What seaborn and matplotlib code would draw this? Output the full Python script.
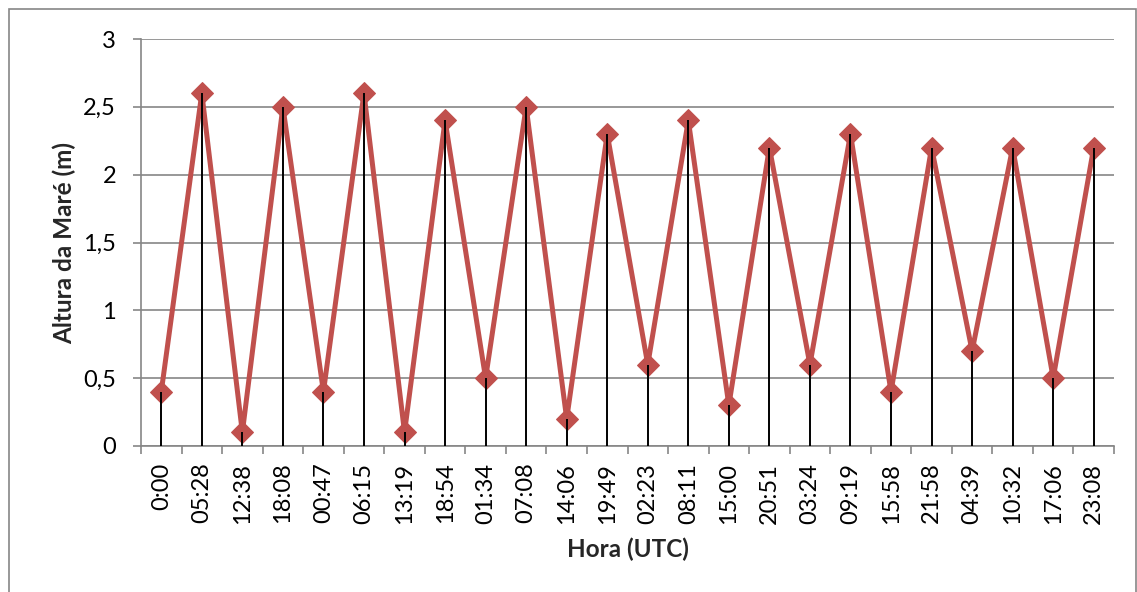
import matplotlib
matplotlib.use("Agg")
import matplotlib.pyplot as plt
import seaborn as sns
import numpy as np
import pandas as pd
from matplotlib.patches import Rectangle

horas = ["0:00", "05:28", "12:38", "18:08", "00:47", "06:15", "13:19", "18:54",
         "01:34", "07:08", "14:06", "19:49", "02:23", "08:11", "15:00", "20:51",
         "03:24", "09:19", "15:58", "21:58", "04:39", "10:32", "17:06", "23:08"]
altura = [0.4, 2.6, 0.1, 2.5, 0.4, 2.6, 0.1, 2.4, 0.5, 2.5, 0.2, 2.3,
          0.6, 2.4, 0.3, 2.2, 0.6, 2.3, 0.4, 2.2, 0.7, 2.2, 0.5, 2.2]
yticks = [0, 0.5, 1, 1.5, 2, 2.5, 3]
ytick_labels = ["0", "0,5", "1", "1,5", "2", "2,5", "3"]

sns.set_theme(style="white")
plt.rcParams['font.family'] = ['Lato', 'DejaVu Sans']

df = pd.DataFrame({"pos": np.arange(len(horas)), "altura": altura})

fig = plt.figure(figsize=(11.37, 5.92), dpi=100)
fig.patch.set_facecolor("white")
fig.add_artist(Rectangle((9 / 1137, -0.01), 1 - 9 / 1137 - 0.001, 1 - 9 / 592 + 0.01,
                         transform=fig.transFigure, fill=False,
                         edgecolor="#868686", linewidth=1.2))
ax = fig.add_axes([141 / 1137, 1 - 446 / 592, (1114 - 141) / 1137, (446 - 39) / 592])

sns.lineplot(data=df, x="pos", y="altura", sort=False, ax=ax, color="#C0504D",
             linewidth=3.6, marker="D", markersize=11.5, markeredgecolor="#C0504D",
             zorder=3)
ax.vlines(df["pos"], 0, df["altura"], color="black", linewidth=1.4, zorder=4)

ax.set_xlim(-0.5, len(horas) - 0.5)
ax.set_ylim(0, 3)
ax.set_yticks(yticks)
ax.set_yticklabels(ytick_labels, fontsize=17)
ax.set_xticks(df["pos"])
ax.set_xticklabels(horas, rotation=90, fontsize=17)
ax.set_xticks(np.arange(len(horas) + 1) - 0.5, minor=True)

ax.yaxis.grid(True, color="#868686", linewidth=1.2)
ax.xaxis.grid(False)
ax.set_axisbelow(True)
for s in ["top", "right"]:
    ax.spines[s].set_visible(False)
for s in ["left", "bottom"]:
    ax.spines[s].set_color("#868686")
    ax.spines[s].set_linewidth(1.2)

ax.tick_params(axis="y", which="major", direction="out", length=6, width=1.2,
               color="#868686", left=True, pad=12, labelcolor="black")
ax.tick_params(axis="x", which="major", length=0, pad=12, labelcolor="black")
ax.tick_params(axis="x", which="minor", direction="out", length=6, width=1.2,
               color="#868686", bottom=True)

ax.set_xlabel("Hora (UTC)", fontsize=17.5, fontweight="bold", labelpad=10)
ax.set_ylabel("Altura da Maré (m)", fontsize=17.5, fontweight="bold", labelpad=5)

fig.savefig("out.png", dpi=100)
